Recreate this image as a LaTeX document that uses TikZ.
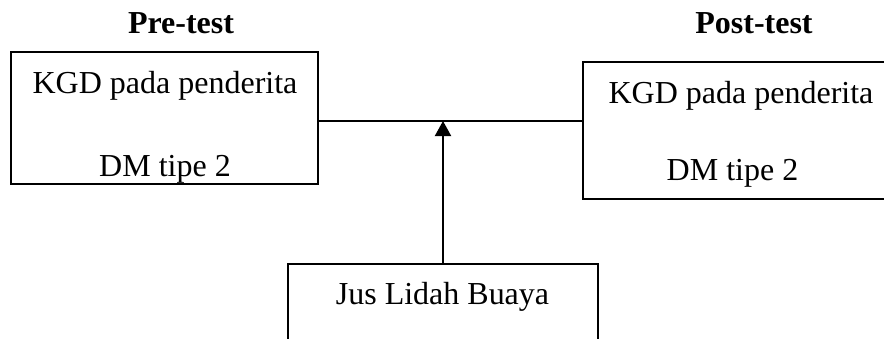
\documentclass[tikz,border=0pt]{standalone}
\usepackage{fontspec}
\setmainfont{Liberation Serif}
\usetikzlibrary{arrows.meta}
\begin{document}
\begin{tikzpicture}[x=1pt,y=-1pt,
  box/.style={draw=black,line width=2pt,rectangle,inner sep=0pt},
  txt/.style={inner sep=0pt,anchor=base,font=\fontsize{32}{38}\selectfont},
  head/.style={txt,font=\fontsize{32}{38}\selectfont\bfseries},
  conn/.style={line width=2pt}]
\useasboundingbox (0,0) rectangle (884,338);
\clip (0,0) rectangle (884,338);
\fill[white] (0,0) rectangle (884,338);
\node[box,minimum width=307pt,minimum height=132pt] (lb) at (164.5,118) {};
\node[box,minimum width=320pt,minimum height=137pt] (rb) at (743,130.5) {};
\node[box,minimum width=310pt,minimum height=110pt] (bb) at (443,319) {};
\node[head] (pre) at (181,33) {Pre-test};
\node[head] (post) at (754,33) {Post-test};
\node[txt] (l1) at (165,93) {KGD pada penderita};
\node[txt] (l2) at (165,176) {DM tipe 2};
\node[txt] (r1) at (741,103) {KGD pada penderita};
\node[txt] (r2) at (732.5,180) {DM tipe 2};
\node[txt] (b1) at (442.5,304) {Jus Lidah Buaya};
\coordinate (j) at (443,121);
\draw[conn] (lb.east |- j) -- (rb.west |- j);
\draw[conn,-{Triangle[length=15pt,width=16pt]}] (bb.north) -- (j);
\end{tikzpicture}
\end{document}
